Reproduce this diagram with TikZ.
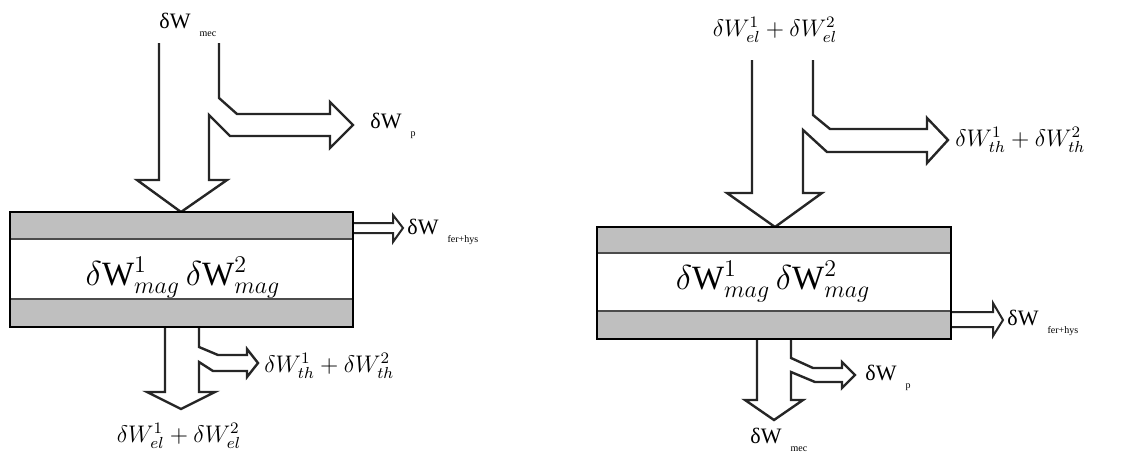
\documentclass[tikz,border=0pt]{standalone}
\usepackage{fontspec}
\setmainfont{Liberation Serif}
\usepackage{tikz}
\usetikzlibrary{positioning}

\newcommand{\dWsub}[1]{δW\hspace{4.5pt}\raisebox{-0.8ex}{\fontsize{5}{6}\selectfont #1}}

\begin{document}
\begin{tikzpicture}[x=0.5pt, y=-0.5pt,
    flow/.style={draw=black!85, fill=white, line width=1.2pt, line join=miter},
    band/.style={fill=black!25},
    sym/.style={font=\fontsize{11}{13}\selectfont, inner sep=0pt},
    eq/.style={font=\fontsize{12}{14}\selectfont, inner sep=0pt},
    mag/.style={font=\fontsize{17}{20}\selectfont, inner sep=0pt}]
    \useasboundingbox (0,0) rectangle (1133,455);

    % left: mechanical in, electrical out
    \draw[flow] (159,43) -- (159,180) -- (137,180) -- (181,212) -- (227,180) -- (209,180) -- (209,115) -- (230,136) -- (330,136) -- (330,148) -- (353,125) -- (330,102) -- (330,114) -- (237,114) -- (219,98) -- (219,43);
    \draw[flow, line width=1pt] (353,223) -- (393,223) -- (393,215) -- (403,228) -- (393,242) -- (393,233) -- (353,233);
    \draw[flow] (165,327) -- (165,392) -- (147,392) -- (181,409) -- (215,392) -- (199,392) -- (199,362) -- (213,371) -- (247,371) -- (247,377) -- (258,363) -- (247,349) -- (247,355) -- (218,355) -- (199,347) -- (199,327);

    \fill[band] (10,212) rectangle (353,239);
    \fill[band] (10,299) rectangle (353,327);
    \draw[line width=0.8pt, black!70] (10,239) -- (353,239) (10,299) -- (353,299);
    \draw[line width=1.3pt] (10,212) rectangle (353,327);

    \node[sym, anchor=base west] (mecL) at (159,28) {\dWsub{mec}};
    \node[sym, anchor=base west] (pL) at (370,128) {\dWsub{p}};
    \node[sym, anchor=base west] (ferL) at (407,234) {\dWsub{fer+hys}};
    \node[mag] (magL) at (183,278) {$\delta\mathrm{W}^1_{mag}\,\delta\mathrm{W}^2_{mag}$};
    \node[eq, anchor=west] (thL) at (264,366) {$\delta W^1_{th}+\delta W^2_{th}$};
    \node[eq] (elL) at (179,436) {$\delta W^1_{el}+\delta W^2_{el}$};

    % right: electrical in, mechanical out
    \draw[flow] (752,60) -- (752,193) -- (727,193) -- (775,227) -- (822,193) -- (803,193) -- (803,130) -- (827,152) -- (927,152) -- (927,163) -- (948,140) -- (927,118) -- (927,129) -- (830,129) -- (813,115) -- (813,60);
    \draw[flow, line width=1pt] (951,312) -- (993,312) -- (993,303) -- (1003,320) -- (993,336) -- (993,327) -- (951,327);
    \draw[flow] (757,339) -- (757,400) -- (745,400) -- (774,420) -- (803,400) -- (791,400) -- (791,372) -- (815,382) -- (842,382) -- (842,388) -- (855,375) -- (842,362) -- (842,368) -- (813,368) -- (791,358) -- (791,339);

    \fill[band] (597,227) rectangle (951,253);
    \fill[band] (597,311) rectangle (951,339);
    \draw[line width=0.8pt, black!70] (597,253) -- (951,253) (597,311) -- (951,311);
    \draw[line width=1.3pt] (597,227) rectangle (951,339);

    \node[eq] (elR) at (775,30) {$\delta W^1_{el}+\delta W^2_{el}$};
    \node[eq, anchor=west] (thR) at (955,140) {$\delta W^1_{th}+\delta W^2_{th}$};
    \node[mag] (magR) at (773,282) {$\delta\mathrm{W}^1_{mag}\,\delta\mathrm{W}^2_{mag}$};
    \node[sym, anchor=base west] (ferR) at (1007,325) {\dWsub{fer+hys}};
    \node[sym, anchor=base west] (pR) at (865,380) {\dWsub{p}};
    \node[sym, anchor=base west] (mecR) at (750,443) {\dWsub{mec}};
\end{tikzpicture}
\end{document}
